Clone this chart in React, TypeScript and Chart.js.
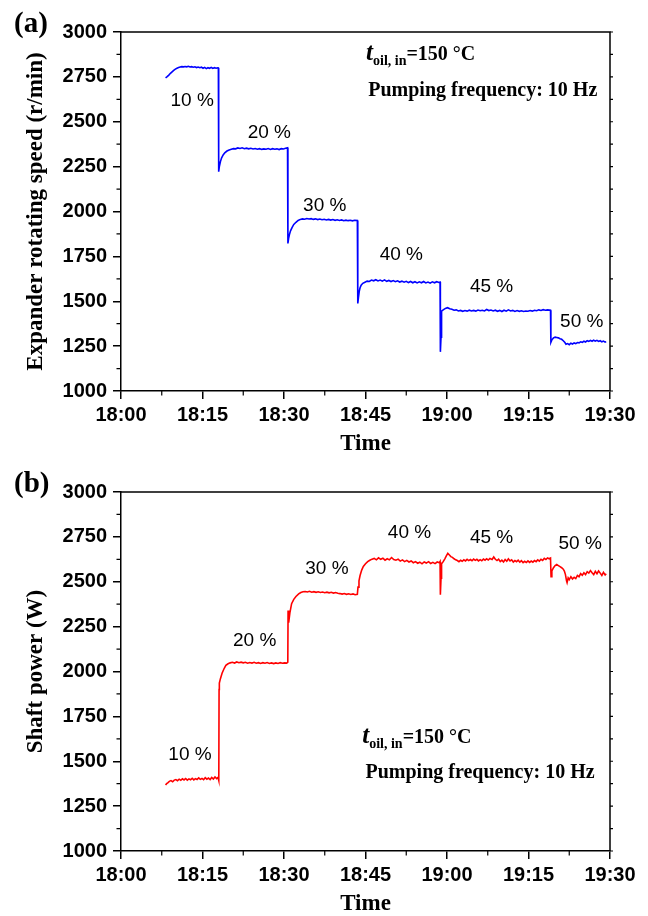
import React, { useEffect, useRef } from 'react';
import { Chart, registerables } from 'chart.js';

Chart.register(...registerables);

// ---------- data ----------
const xTickMinutes = [0, 15, 30, 45, 60, 75, 90];
const xTickLabels = ['18:00', '18:15', '18:30', '18:45', '19:00', '19:15', '19:30'];
const xMinorTicks = [7.5, 22.5, 37.5, 52.5, 67.5, 82.5];
const yMinorTicks = [1125, 1375, 1625, 1875, 2125, 2375, 2625, 2875];
const yAllTicks = [1000, 1125, 1250, 1375, 1500, 1625, 1750, 1875, 2000, 2125, 2250, 2375, 2500, 2625, 2750, 2875, 3000];

// [minutes after 18:00, r/min]
const speedSeries: [number, number][] = [
  [8.2, 2745], [8.5, 2752], [8.8, 2760], [9.1, 2770], [9.4, 2778], [9.7, 2786], [10.0, 2793], [10.3, 2798], [10.6, 2802], [10.9, 2805],
  [11.2, 2807], [11.5, 2806], [11.8, 2808], [12.1, 2806], [12.4, 2809], [12.7, 2805], [13.0, 2807], [13.3, 2804], [13.6, 2806], [13.9, 2802],
  [14.2, 2805], [14.5, 2801], [14.8, 2804], [15.1, 2798], [15.4, 2803], [15.7, 2796], [16.0, 2801], [16.3, 2798], [16.6, 2803], [16.9, 2797],
  [17.2, 2801], [17.5, 2798], [17.8, 2801], [17.92, 2800],
  [17.98, 2222],
  [18.1, 2250], [18.3, 2278], [18.5, 2298], [18.8, 2315], [19.1, 2327], [19.5, 2337], [19.9, 2343], [20.3, 2347], [20.7, 2350], [21.1, 2349],
  [21.5, 2354], [21.9, 2351], [22.3, 2355], [22.7, 2350], [23.1, 2353], [23.5, 2349], [23.9, 2352], [24.3, 2348], [24.7, 2351], [25.1, 2347],
  [25.5, 2350], [25.9, 2346], [26.3, 2349], [26.7, 2347], [27.1, 2351], [27.5, 2346], [27.9, 2350], [28.3, 2347], [28.7, 2349], [29.1, 2345],
  [29.5, 2350], [29.9, 2348], [30.3, 2352], [30.65, 2355],
  [30.72, 1822],
  [30.85, 1850], [31.0, 1872], [31.2, 1892], [31.5, 1912], [31.8, 1928], [32.2, 1940], [32.6, 1950], [33.0, 1956], [33.4, 1959], [33.8, 1957],
  [34.2, 1961], [34.6, 1958], [35.0, 1960], [35.4, 1956], [35.8, 1959], [36.2, 1955], [36.6, 1958], [37.0, 1954], [37.4, 1957], [37.8, 1953],
  [38.2, 1956], [38.6, 1952], [39.0, 1955], [39.4, 1951], [39.8, 1954], [40.2, 1950], [40.6, 1953], [41.0, 1949], [41.4, 1952], [41.8, 1949],
  [42.2, 1951], [42.6, 1948], [43.0, 1951], [43.5, 1950],
  [43.58, 1488],
  [43.7, 1520], [43.85, 1555], [44.0, 1575], [44.2, 1590], [44.5, 1600], [44.9, 1606], [45.3, 1612], [45.7, 1610], [46.1, 1618], [46.5, 1614],
  [46.9, 1620], [47.3, 1613], [47.7, 1618], [48.1, 1612], [48.5, 1619], [48.9, 1611], [49.3, 1616], [49.7, 1610], [50.1, 1615], [50.5, 1609],
  [50.9, 1614], [51.3, 1607], [51.7, 1612], [52.1, 1606], [52.5, 1611], [52.9, 1604], [53.3, 1610], [53.7, 1603], [54.1, 1609], [54.5, 1602],
  [54.9, 1608], [55.3, 1603], [55.7, 1610], [56.1, 1602], [56.5, 1607], [56.9, 1601], [57.3, 1608], [57.7, 1603], [58.1, 1609], [58.5, 1605],
  [58.72, 1607],
  [58.78, 1218], [58.9, 1300], [59.0, 1445],
  [59.3, 1452], [59.7, 1460], [60.1, 1464], [60.5, 1458], [60.9, 1455], [61.3, 1450], [61.7, 1452], [62.1, 1446], [62.5, 1449], [62.9, 1444],
  [63.3, 1448], [63.7, 1445], [64.1, 1450], [64.5, 1446], [64.9, 1449], [65.3, 1445], [65.7, 1451], [66.1, 1447], [66.5, 1450], [66.9, 1446],
  [67.3, 1454], [67.7, 1448], [68.1, 1451], [68.5, 1446], [68.9, 1450], [69.3, 1444], [69.7, 1449], [70.1, 1443], [70.5, 1450], [70.9, 1445],
  [71.3, 1452], [71.7, 1446], [72.1, 1449], [72.5, 1443], [72.9, 1448], [73.3, 1444], [73.7, 1447], [74.1, 1443], [74.5, 1446], [74.9, 1444],
  [75.3, 1448], [75.7, 1445], [76.1, 1450], [76.5, 1447], [76.9, 1452], [77.3, 1449], [77.7, 1453], [78.1, 1450], [78.5, 1452], [79.05, 1450],
  [79.12, 1272],
  [79.3, 1285], [79.6, 1296], [79.9, 1300], [80.2, 1298], [80.5, 1296], [80.8, 1291], [81.1, 1288], [81.4, 1280], [81.7, 1270], [81.9, 1260],
  [82.2, 1264], [82.5, 1258], [82.8, 1266], [83.1, 1262], [83.4, 1268], [83.7, 1264], [84.0, 1270], [84.3, 1268], [84.6, 1274], [84.9, 1271],
  [85.2, 1277], [85.5, 1273], [85.8, 1280], [86.1, 1276], [86.4, 1282], [86.7, 1277], [87.0, 1283], [87.3, 1278], [87.6, 1282], [87.9, 1276],
  [88.2, 1280], [88.5, 1274], [88.8, 1278], [89.1, 1272], [89.3, 1275],
];

// [minutes after 18:00, W]
const powerSeries: [number, number][] = [
  [8.2, 1368], [8.4, 1375], [8.6, 1380], [8.9, 1388], [9.2, 1392], [9.5, 1386], [9.8, 1395], [10.1, 1398], [10.4, 1392], [10.7, 1400],
  [11.0, 1394], [11.3, 1402], [11.6, 1396], [11.9, 1404], [12.2, 1395], [12.5, 1402], [12.8, 1397], [13.1, 1405], [13.4, 1396], [13.7, 1403],
  [14.0, 1398], [14.3, 1407], [14.6, 1399], [14.9, 1404], [15.2, 1397], [15.5, 1408], [15.8, 1400], [16.1, 1406], [16.4, 1398], [16.7, 1410],
  [17.0, 1401], [17.3, 1412], [17.6, 1403], [17.85, 1410], [18.0, 1392],
  [18.05, 1900], [18.1, 1935], [18.3, 1960], [18.6, 1990], [19.0, 2018], [19.3, 2034], [19.7, 2043], [20.1, 2048], [20.5, 2051], [20.9, 2047],
  [21.3, 2053], [21.7, 2049], [22.1, 2052], [22.5, 2048], [22.9, 2051], [23.3, 2046], [23.7, 2050], [24.1, 2047], [24.5, 2051], [24.9, 2046],
  [25.3, 2049], [25.7, 2045], [26.1, 2049], [26.5, 2046], [26.9, 2050], [27.3, 2045], [27.7, 2048], [28.1, 2044], [28.5, 2048], [28.9, 2045],
  [29.3, 2049], [29.7, 2046], [30.1, 2048], [30.5, 2047], [30.7, 2052],
  [30.75, 2340], [30.82, 2300], [30.9, 2272], [31.1, 2330], [31.4, 2378], [31.8, 2402], [32.2, 2418], [32.7, 2432], [33.1, 2440], [33.5, 2444],
  [33.9, 2446], [34.3, 2443], [34.7, 2447], [35.1, 2442], [35.5, 2445], [35.9, 2441], [36.3, 2444], [36.7, 2440], [37.1, 2443], [37.5, 2439],
  [37.9, 2442], [38.3, 2438], [38.7, 2441], [39.1, 2437], [39.5, 2440], [39.9, 2436], [40.3, 2434], [40.7, 2431], [41.1, 2434], [41.5, 2430],
  [41.9, 2433], [42.3, 2429], [42.7, 2432], [43.1, 2428], [43.5, 2430],
  [43.62, 2470], [43.8, 2505], [44.0, 2535], [44.3, 2565], [44.6, 2585], [45.0, 2600], [45.4, 2612], [45.8, 2620], [46.2, 2626], [46.6, 2630],
  [47.0, 2622], [47.4, 2633], [47.8, 2625], [48.2, 2631], [48.6, 2620], [49.0, 2628], [49.4, 2622], [49.8, 2635], [50.2, 2624], [50.6, 2620],
  [51.0, 2626], [51.4, 2615], [51.8, 2622], [52.2, 2612], [52.6, 2619], [53.0, 2610], [53.4, 2616], [53.8, 2606], [54.2, 2612], [54.6, 2603],
  [55.0, 2609], [55.4, 2600], [55.8, 2610], [56.2, 2604], [56.6, 2612], [57.0, 2602], [57.4, 2608], [57.8, 2601], [58.2, 2610], [58.6, 2606],
  [58.72, 2612],
  [58.78, 2428], [58.9, 2520], [59.0, 2600],
  [59.3, 2612], [59.6, 2628], [59.9, 2645], [60.15, 2658], [60.4, 2650], [60.7, 2640], [61.0, 2636], [61.3, 2628], [61.6, 2622], [61.9, 2618],
  [62.2, 2612], [62.5, 2620], [62.8, 2614], [63.1, 2622], [63.4, 2616], [63.7, 2625], [64.0, 2618], [64.3, 2624], [64.6, 2617], [64.9, 2626],
  [65.2, 2619], [65.5, 2625], [65.8, 2616], [66.1, 2623], [66.4, 2617], [66.7, 2626], [67.0, 2620], [67.3, 2628], [67.6, 2621], [67.9, 2630],
  [68.3, 2624], [68.6, 2638], [68.9, 2625], [69.2, 2618], [69.5, 2626], [69.8, 2612], [70.1, 2620], [70.4, 2610], [70.7, 2624], [71.0, 2614],
  [71.3, 2628], [71.6, 2616], [71.9, 2622], [72.2, 2610], [72.5, 2618], [72.8, 2612], [73.1, 2620], [73.4, 2609], [73.7, 2617], [74.0, 2606],
  [74.3, 2614], [74.6, 2607], [74.9, 2616], [75.2, 2608], [75.5, 2615], [75.8, 2609], [76.1, 2618], [76.4, 2612], [76.7, 2622], [77.0, 2615],
  [77.3, 2625], [77.6, 2619], [77.9, 2630], [78.2, 2624], [78.5, 2633], [78.8, 2628], [79.05, 2632],
  [79.15, 2528], [79.3, 2560], [79.6, 2578], [79.9, 2590], [80.2, 2596], [80.5, 2590], [80.8, 2584], [81.1, 2578], [81.4, 2570], [81.6, 2560],
  [81.8, 2540], [82.0, 2505], [82.1, 2495], [82.3, 2522], [82.5, 2512], [82.8, 2528], [83.1, 2515], [83.4, 2525], [83.7, 2518], [84.0, 2535],
  [84.3, 2528], [84.6, 2545], [84.9, 2536], [85.2, 2550], [85.5, 2540], [85.8, 2556], [86.1, 2548], [86.4, 2562], [86.7, 2550], [87.0, 2540],
  [87.3, 2558], [87.6, 2545], [87.9, 2560], [88.2, 2548], [88.5, 2535], [88.8, 2552], [89.1, 2538], [89.3, 2545],
];

const stepLabels = ['10 %', '20 %', '30 %', '40 %', '45 %', '50 %'];
const speedLabelAt: [number, number][] = [[13.1, 2615], [27.3, 2440], [37.5, 2030], [51.6, 1757], [68.2, 1580], [84.8, 1385]];
const powerLabelAt: [number, number][] = [[12.7, 1534], [24.6, 2170], [37.9, 2575], [53.1, 2771], [68.2, 2747], [84.5, 2713]];
// [x, baseline y] of "t_oil,in=150 °C" and of "Pumping frequency: 10 Hz"
const speedNoteAt: [number, number][] = [[45.1, 2846], [45.5, 2641]];
const powerNoteAt: [number, number][] = [[44.4, 1599], [45.0, 1404]];

// ---------- chart ----------
const SANS = '"Liberation Sans", Arial, sans-serif';
const SERIF = '"Liberation Serif", "Times New Roman", serif';

function makePlugin(labelAt: [number, number][], noteAt: [number, number][]) {
  return {
    id: 'decor',
    afterDraw(chart: any) {
      const { ctx, chartArea: a, scales } = chart;
      const x = scales.x;
      const y = scales.y;
      ctx.save();
      ctx.strokeStyle = '#000';
      ctx.lineWidth = 1.5;
      ctx.beginPath();
      ctx.moveTo(a.left, a.top);
      ctx.lineTo(a.right, a.top);
      ctx.lineTo(a.right, a.bottom);
      ctx.stroke();
      ctx.lineWidth = 1.2;
      ctx.beginPath();
      for (const v of yMinorTicks) {
        const py = y.getPixelForValue(v);
        ctx.moveTo(a.left - 4.5, py);
        ctx.lineTo(a.left, py);
      }
      for (const v of yAllTicks) {
        const py = y.getPixelForValue(v);
        ctx.moveTo(a.right, py);
        ctx.lineTo(a.right + 3, py);
      }
      for (const m of xMinorTicks) {
        const px = x.getPixelForValue(m);
        ctx.moveTo(px, a.bottom);
        ctx.lineTo(px, a.bottom + 4.5);
      }
      ctx.stroke();

      ctx.fillStyle = '#000';
      ctx.textAlign = 'center';
      ctx.textBaseline = 'middle';
      ctx.font = `19px ${SANS}`;
      stepLabels.forEach((t, i) => {
        const [lx, ly] = labelAt[i];
        ctx.fillText(t, x.getPixelForValue(lx), y.getPixelForValue(ly));
      });

      ctx.textAlign = 'left';
      ctx.textBaseline = 'alphabetic';
      const [tx, tyv] = noteAt[0];
      let px = x.getPixelForValue(tx);
      const py = y.getPixelForValue(tyv);
      ctx.font = `italic bold 25px ${SERIF}`;
      ctx.fillText('t', px, py);
      px += ctx.measureText('t').width;
      ctx.font = `bold 14px ${SERIF}`;
      ctx.fillText('oil, in', px, py + 5);
      px += ctx.measureText('oil, in').width;
      ctx.font = `bold 20px ${SERIF}`;
      ctx.fillText('=150 °C', px, py);

      const [fx, fyv] = noteAt[1];
      ctx.font = `bold 20px ${SERIF}`;
      ctx.fillText('Pumping frequency: 10 Hz', x.getPixelForValue(fx), y.getPixelForValue(fyv));
      ctx.restore();
    },
  };
}

function makeConfig(
  series: [number, number][],
  color: string,
  yTitle: string,
  labelAt: [number, number][],
  noteAt: [number, number][],
  padTop: number,
  xAxisHeight: number,
): any {
  return {
    type: 'line',
    data: {
      datasets: [
        {
          data: series.map(([t, v]) => ({ x: t, y: v })),
          borderColor: color,
          borderWidth: 1.6,
          pointRadius: 0,
          tension: 0,
          fill: false,
        },
      ],
    },
    options: {
      animation: false,
      responsive: false,
      maintainAspectRatio: false,
      layout: { padding: { left: 0, right: 38, top: padTop, bottom: 0 } },
      plugins: { legend: { display: false }, tooltip: { enabled: false } },
      scales: {
        x: {
          type: 'linear',
          min: 0,
          max: 90,
          afterFit: (s: any) => {
            s.height = xAxisHeight;
          },
          afterBuildTicks: (s: any) => {
            s.ticks = xTickMinutes.map((v) => ({ value: v }));
          },
          ticks: {
            callback: (v: number) => xTickLabels[xTickMinutes.indexOf(v)] ?? '',
            font: { family: SANS, size: 20, weight: 'bold' },
            color: '#000',
            padding: 4,
            maxRotation: 0,
            autoSkip: false,
          },
          grid: { drawOnChartArea: false, drawTicks: true, tickLength: 8, color: '#000', lineWidth: 1.5 },
          border: { display: true, color: '#000', width: 1.5 },
          title: {
            display: true,
            text: 'Time',
            font: { family: SERIF, size: 23, weight: 'bold' },
            color: '#000',
            padding: { top: 0, bottom: 0 },
          },
        },
        y: {
          type: 'linear',
          min: 1000,
          max: 3000,
          afterFit: (s: any) => {
            s.width = 121;
          },
          ticks: {
            stepSize: 250,
            callback: (v: number) => String(v),
            font: { family: SANS, size: 20, weight: 'bold' },
            color: '#000',
            padding: 6,
          },
          grid: { drawOnChartArea: false, drawTicks: true, tickLength: 8, color: '#000', lineWidth: 1.5 },
          border: { display: true, color: '#000', width: 1.5 },
          title: {
            display: true,
            text: yTitle,
            font: { family: SERIF, size: 23, weight: 'bold' },
            color: '#000',
            padding: { top: 22, bottom: 0 },
          },
        },
      },
    },
    plugins: [makePlugin(labelAt, noteAt)],
  };
}

function Panel(props: {
  top: number;
  letter: string;
  series: [number, number][];
  color: string;
  yTitle: string;
  labelAt: [number, number][];
  noteAt: [number, number][];
}) {
  const ref = useRef<HTMLCanvasElement>(null);
  useEffect(() => {
    if (!ref.current) return;
    const chart = new Chart(
      ref.current,
      makeConfig(props.series, props.color, props.yTitle, props.labelAt, props.noteAt, 32, 458 - 391),
    );
    return () => chart.destroy();
  }, []);
  return (
    <div style={{ position: 'absolute', left: 0, top: props.top, width: 648, height: 458 }}>
      <canvas ref={ref} width={648} height={458} style={{ display: 'block', width: 648, height: 458 }} />
      <div
        style={{
          position: 'absolute',
          left: 14,
          top: 6,
          fontFamily: SERIF,
          fontWeight: 'bold',
          fontSize: 29,
          lineHeight: '32px',
          color: '#000',
        }}
      >
        {props.letter}
      </div>
    </div>
  );
}

export default function App() {
  return (
    <div
      style={{
        position: 'absolute',
        left: 0,
        top: 0,
        width: 648,
        height: 916,
        overflow: 'hidden',
        background: '#fff',
      }}
    >
      <Panel
        top={0}
        letter="(a)"
        series={speedSeries}
        color="#0000ff"
        yTitle="Expander rotating speed (r/min)"
        labelAt={speedLabelAt}
        noteAt={speedNoteAt}
      />
      <Panel
        top={460}
        letter="(b)"
        series={powerSeries}
        color="#ff0000"
        yTitle="Shaft power (W)"
        labelAt={powerLabelAt}
        noteAt={powerNoteAt}
      />
    </div>
  );
}
